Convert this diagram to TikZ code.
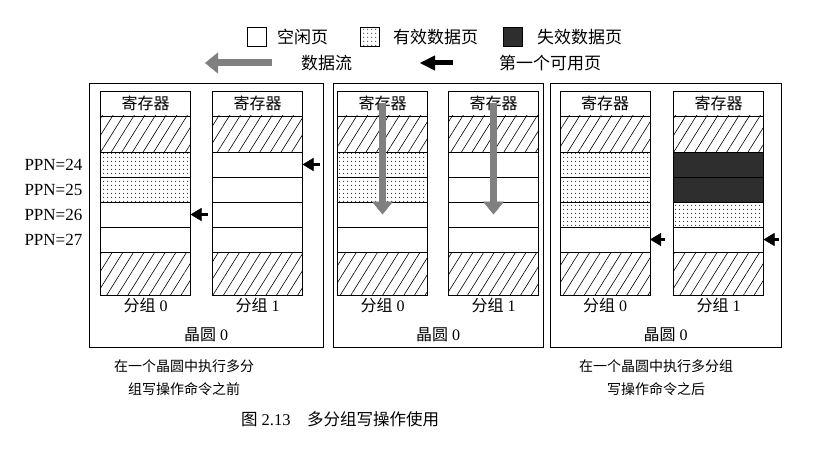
\documentclass[tikz,border=0pt]{standalone}
\usepackage{fontspec}
\setmainfont{Liberation Serif}
\newfontfamily\cjk{Noto Sans CJK SC}
\usepackage{tikz}
\usetikzlibrary{shapes, arrows.meta, positioning, patterns.meta}
\tikzstyle{wafer} = [rectangle, draw=black, line width=0.6pt, minimum height=264pt, inner sep=0pt]
\tikzstyle{cell} = [rectangle, draw=black, line width=0.6pt, minimum width=90pt, minimum height=25pt, inner sep=0pt, outer sep=0pt, font=\fontsize{16}{19}\selectfont\cjk]
\tikzstyle{stripes} = [pattern={Lines[angle=58, distance=9pt, line width=0.6pt]}]
\tikzstyle{dotfill} = [pattern={Dots[radius=0.7pt, distance=4pt]}, pattern color=black!80]
\tikzstyle{darkfill} = [fill=black!82]
\tikzstyle{hatch} = [cell, stripes, minimum height=36pt]
\tikzstyle{hatchlow} = [cell, stripes, minimum height=43pt]
\tikzstyle{free} = [cell]
\tikzstyle{valid} = [cell, dotfill]
\tikzstyle{invalid} = [cell, darkfill]
\tikzstyle{key} = [rectangle, draw=black, line width=0.6pt, minimum size=19pt, inner sep=0pt]
\tikzstyle{keytext} = [font=\fontsize{17}{20}\selectfont\cjk, inner sep=1pt]
\tikzstyle{ppn} = [font=\fontsize{17}{20}\selectfont, inner sep=1pt]
\tikzstyle{groupname} = [font=\fontsize{16}{19}\selectfont, inner sep=1pt]
\tikzstyle{note} = [font=\fontsize{14}{23}\selectfont\cjk, align=center]
\tikzstyle{title} = [font=\fontsize{16.5}{20}\selectfont]
\tikzstyle{flow} = [line width=7pt, gray, -{Triangle[length=13pt, width=21pt, line width=0.5pt]}]
\tikzstyle{first} = [line width=3.5pt, -{Triangle[length=11pt, width=13pt, line width=0.5pt]}]
\tikzstyle{firstkey} = [line width=5pt, -{Triangle[length=15pt, width=15pt, line width=0.5pt]}]

\begin{document}
\begin{tikzpicture}[x=1pt, y=-1pt, node distance=0pt, auto]
\useasboundingbox (0,0) rectangle (834,449);

% Legend
\node (keyfree) [key] at (257,37) {};
\node (keyfreetext) [keytext, right=9pt of keyfree] {空闲页};
\node (keyvalid) [key, dotfill] at (370,37) {};
\node (keyvalidtext) [keytext, right=12pt of keyvalid] {有效数据页};
\node (keyinvalid) [key, darkfill] at (513,37) {};
\node (keyinvalidtext) [keytext, right=13pt of keyinvalid] {失效数据页};
\coordinate (flowtail) at (272,63);
\coordinate (flowtip) at (205,63);
\node (flowtext) [keytext, right=28pt of flowtail] {数据流};
\coordinate (firsttail) at (453,63);
\coordinate (firsttip) at (420,63);
\node (firsttext) [keytext, right=45pt of firsttail] {第一个可用页};

% Wafers
\node (waferB) [wafer, minimum width=234pt] at (206,215) {};
\node (waferD) [wafer, minimum width=210pt] at (438,215) {};
\node (waferA) [wafer, minimum width=231pt] at (665.5,215) {};

% Before: group 0
\node (b0reg) [cell] at (145.5,103.5) {寄存器};
\node (b0top) [hatch, below=of b0reg] {};
\node (b0p24) [valid, below=of b0top] {};
\node (b0p25) [valid, below=of b0p24] {};
\node (b0p26) [free, below=of b0p25] {};
\node (b0p27) [free, below=of b0p26] {};
\node (b0bot) [hatchlow, below=of b0p27] {};

% Before: group 1
\node (b1reg) [cell] at (257.5,103.5) {寄存器};
\node (b1top) [hatch, below=of b1reg] {};
\node (b1p24) [free, below=of b1top] {};
\node (b1p25) [free, below=of b1p24] {};
\node (b1p26) [free, below=of b1p25] {};
\node (b1p27) [free, below=of b1p26] {};
\node (b1bot) [hatchlow, below=of b1p27] {};

% During: group 0
\node (d0reg) [cell] at (382.5,103.5) {寄存器};
\node (d0top) [hatch, below=of d0reg] {};
\node (d0p24) [valid, below=of d0top] {};
\node (d0p25) [valid, below=of d0p24] {};
\node (d0p26) [free, below=of d0p25] {};
\node (d0p27) [free, below=of d0p26] {};
\node (d0bot) [hatchlow, below=of d0p27] {};

% During: group 1
\node (d1reg) [cell] at (493.5,103.5) {寄存器};
\node (d1top) [hatch, below=of d1reg] {};
\node (d1p24) [free, below=of d1top] {};
\node (d1p25) [free, below=of d1p24] {};
\node (d1p26) [free, below=of d1p25] {};
\node (d1p27) [free, below=of d1p26] {};
\node (d1bot) [hatchlow, below=of d1p27] {};

% After: group 0
\node (a0reg) [cell] at (605,103.5) {寄存器};
\node (a0top) [hatch, below=of a0reg] {};
\node (a0p24) [valid, below=of a0top] {};
\node (a0p25) [valid, below=of a0p24] {};
\node (a0p26) [valid, below=of a0p25] {};
\node (a0p27) [free, below=of a0p26] {};
\node (a0bot) [hatchlow, below=of a0p27] {};

% After: group 1
\node (a1reg) [cell] at (718.5,103.5) {寄存器};
\node (a1top) [hatch, below=of a1reg] {};
\node (a1p24) [invalid, below=of a1top] {};
\node (a1p25) [invalid, below=of a1p24] {};
\node (a1p26) [valid, below=of a1p25] {};
\node (a1p27) [free, below=of a1p26] {};
\node (a1bot) [hatchlow, below=of a1p27] {};

% Page numbers
\node (ppn24) [ppn, left=17pt of b0p24] {PPN=24};
\node (ppn25) [ppn, left=17pt of b0p25] {PPN=25};
\node (ppn26) [ppn, left=17pt of b0p26] {PPN=26};
\node (ppn27) [ppn, left=17pt of b0p27] {PPN=27};

% Names
\node (b0name) [groupname, below=2pt of b0bot] {{\cjk 分组} 0};
\node (b1name) [groupname, below=2pt of b1bot] {{\cjk 分组} 1};
\node (d0name) [groupname, below=2pt of d0bot] {{\cjk 分组} 0};
\node (d1name) [groupname, below=2pt of d1bot] {{\cjk 分组} 1};
\node (a0name) [groupname, below=2pt of a0bot] {{\cjk 分组} 0};
\node (a1name) [groupname, below=2pt of a1bot] {{\cjk 分组} 1};
\node (waferBname) [groupname, above=4pt of waferB.south] {{\cjk 晶圆} 0};
\node (waferDname) [groupname, above=4pt of waferD.south] {{\cjk 晶圆} 0};
\node (waferAname) [groupname, above=4pt of waferA.south] {{\cjk 晶圆} 0};

% Captions
\node (noteBefore) [note] at (184,378) {在一个晶圆中执行多分\\组写操作命令之前};
\node (noteAfter) [note] at (656,378) {在一个晶圆中执行多分组\\写操作命令之后};
\node (caption) [title] at (340,419) {{\cjk 图} 2.13\quad{\cjk 多分组写操作使用}};

% Arrows
\coordinate [right=17pt of b0p26] (b0first);
\coordinate [right=17pt of b1p24] (b1first);
\coordinate [right=15pt of a0p27] (a0first);
\coordinate [right=15pt of a1p27] (a1first);
\draw [first] (b0first) -- (b0p26);
\draw [first] (b1first) -- (b1p24);
\draw [first] (a0first) -- (a0p27);
\draw [first] (a1first) -- (a1p27);
\draw [flow] (d0reg.center) -- (d0p26.center);
\draw [flow] (d1reg.center) -- (d1p26.center);
\draw [flow] (flowtail) -- (flowtip);
\draw [firstkey] (firsttail) -- (firsttip);

\end{tikzpicture}
\end{document}
